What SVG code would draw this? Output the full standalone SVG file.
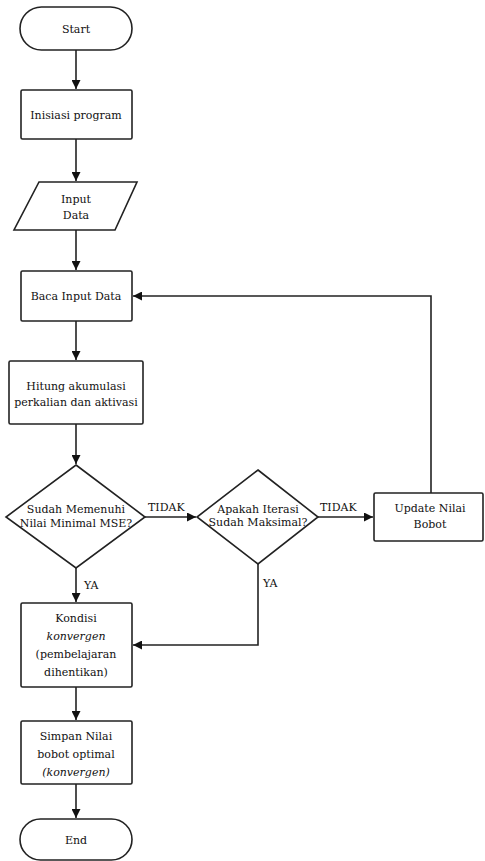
<svg xmlns="http://www.w3.org/2000/svg" width="485" height="861" viewBox="0 0 485 861">
<defs>
<marker id="ah" viewBox="0 0 10 10" refX="10" refY="5" markerWidth="9" markerHeight="9" markerUnits="userSpaceOnUse" orient="auto">
<path d="M0,0 L10,5 L0,10 z" fill="#111"/>
</marker>
</defs>
<style>
.s{fill:#fff;stroke:#222;stroke-width:1.6}
.c{fill:none;stroke:#222;stroke-width:1.6}
text{font-family:'DejaVu Serif','Liberation Serif',serif;font-size:11px;fill:#111;text-anchor:middle}
.i{font-style:italic}
.l{text-anchor:start}
</style>
<rect width="485" height="861" fill="#fff"/>
<g id="connectors">
<path class="c" d="M76,50 V89" marker-end="url(#ah)"/>
<path class="c" d="M76,139 V181" marker-end="url(#ah)"/>
<path class="c" d="M76,230 V270" marker-end="url(#ah)"/>
<path class="c" d="M76,321 V360" marker-end="url(#ah)"/>
<path class="c" d="M76,424 V464" marker-end="url(#ah)"/>
<path class="c" d="M145,517 H196" marker-end="url(#ah)"/>
<path class="c" d="M318,517 H373" marker-end="url(#ah)"/>
<path class="c" d="M431,493 V296 H133" marker-end="url(#ah)"/>
<path class="c" d="M76,568 V602" marker-end="url(#ah)"/>
<path class="c" d="M258,564 V645 H133" marker-end="url(#ah)"/>
<path class="c" d="M76,687 V720" marker-end="url(#ah)"/>
<path class="c" d="M76,784 V818" marker-end="url(#ah)"/>
<text class="l" x="148" y="511" font-size="10.5">TIDAK</text>
<text class="l" x="320" y="511" font-size="10.5">TIDAK</text>
<text class="l" x="84" y="589" font-size="10.5">YA</text>
<text class="l" x="263" y="587" font-size="10.5">YA</text>
</g>
<g id="start">
<rect class="s" x="20" y="7" width="112" height="43" rx="21.5"/>
<text x="76" y="33">Start</text>
</g>
<g id="inisiasi">
<rect class="s" x="21" y="90" width="111" height="49" rx="1.5"/>
<text x="76" y="119">Inisiasi program</text>
</g>
<g id="input">
<polygon class="s" points="39,182 137,182 115,230 14,230"/>
<text x="76" y="203">Input</text>
<text x="76" y="219">Data</text>
</g>
<g id="baca">
<rect class="s" x="21" y="271" width="111" height="50" rx="1.5"/>
<text x="76" y="300">Baca Input Data</text>
</g>
<g id="hitung">
<rect class="s" x="9" y="361" width="134" height="63" rx="1.5"/>
<text x="76" y="390">Hitung akumulasi</text>
<text x="76" y="406" font-size="10.5">perkalian dan aktivasi</text>
</g>
<g id="cek-mse">
<polygon class="s" points="76,465 145,517 76,568 6,517"/>
<text x="76" y="513" font-size="9.5">Sudah Memenuhi</text>
<text x="76" y="527" font-size="9.5">Nilai Minimal MSE?</text>
</g>
<g id="cek-iterasi">
<polygon class="s" points="258,470 318,517 258,564 197,517"/>
<text x="258" y="513" font-size="9">Apakah Iterasi</text>
<text x="258" y="526" font-size="9">Sudah Maksimal?</text>
</g>
<g id="update">
<rect class="s" x="374" y="493" width="109" height="48" rx="1.5"/>
<text x="430" y="512">Update Nilai</text>
<text x="430" y="528">Bobot</text>
</g>
<g id="kondisi">
<rect class="s" x="21" y="603" width="111" height="84" rx="1.5"/>
<text x="76" y="622" font-size="12">Kondisi</text>
<text x="76" y="640" class="i">konvergen</text>
<text x="76" y="658">(pembelajaran</text>
<text x="76" y="676">dihentikan)</text>
</g>
<g id="simpan">
<rect class="s" x="21" y="721" width="111" height="63" rx="1.5"/>
<text x="76" y="740">Simpan Nilai</text>
<text x="76" y="758">bobot optimal</text>
<text x="76" y="776" class="i">(konvergen)</text>
</g>
<g id="end">
<rect class="s" x="20" y="819" width="112" height="41" rx="20.5"/>
<text x="76" y="844">End</text>
</g>
</svg>
